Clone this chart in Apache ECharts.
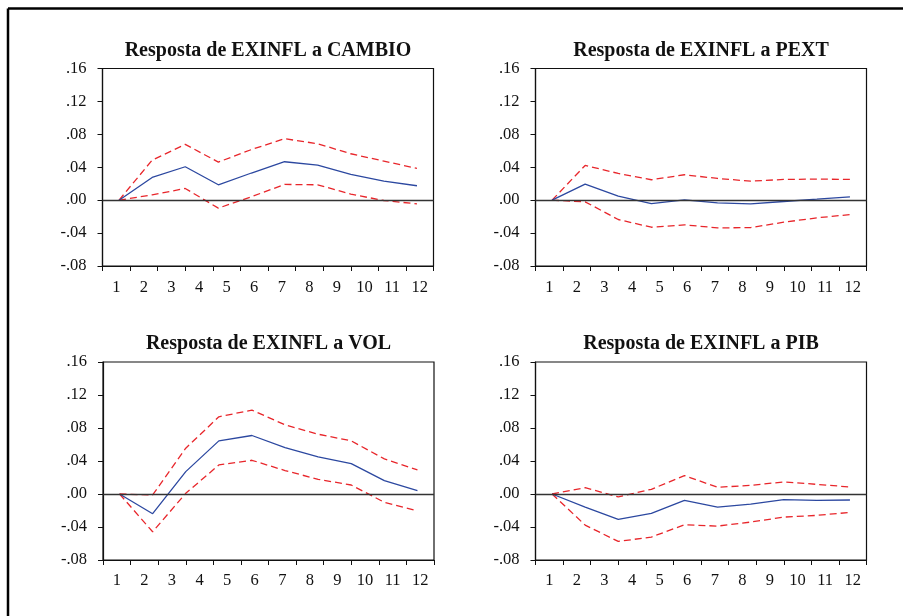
<!DOCTYPE html>
<html>
<head>
<meta charset="utf-8">
<script src="https://cdn.jsdelivr.net/npm/echarts@6/dist/echarts.min.js"></script>
<style>
html,body{margin:0;padding:0;background:#fff;}
#chart{width:903px;height:616px;}
</style>
</head>
<body>
<div id="chart"></div>
<script>
// Axis tick labels (horizontal axis) and response periods
var axisLabels = ['1','2','3','4','5','6','7','8','9','10','11','12'];
var periods = [1,2,3,4,5,6,7,8,9,10];
var yTicks = [-0.08, -0.04, 0.00, 0.04, 0.08, 0.12, 0.16];

var titles = ['Resposta de EXINFL a CAMBIO', 'Resposta de EXINFL a PEXT',
              'Resposta de EXINFL a VOL', 'Resposta de EXINFL a PIB'];

// CAMBIO
var cambioResp  = [0, 0.0276, 0.0406, 0.0187, 0.0330, 0.0467, 0.0426, 0.0313, 0.0231, 0.0175];
var cambioUpper = [0, 0.0487, 0.0678, 0.0463, 0.0615, 0.0747, 0.0686, 0.0564, 0.0475, 0.0386];
var cambioLower = [0, 0.0065, 0.0142, -0.0097, 0.0042, 0.0191, 0.0187, 0.0073, -0.0004, -0.0045];
// PEXT
var pextResp  = [0, 0.0195, 0.0049, -0.0041, 0.0004, -0.0032, -0.0045, -0.0016, 0.0012, 0.0041];
var pextUpper = [0, 0.0422, 0.0325, 0.0248, 0.0309, 0.0264, 0.0231, 0.0252, 0.0256, 0.0252];
var pextLower = [0, -0.0020, -0.0235, -0.0329, -0.0300, -0.0337, -0.0333, -0.0268, -0.0215, -0.0175];
// VOL
var volResp  = [0, -0.0239, 0.0271, 0.0644, 0.0709, 0.0563, 0.0450, 0.0369, 0.0162, 0.0040];
var volUpper = [0, -0.0012, 0.0555, 0.0936, 0.1017, 0.0838, 0.0725, 0.0644, 0.0425, 0.0292];
var volLower = [0, -0.0458, 0.0008, 0.0352, 0.0409, 0.0284, 0.0178, 0.0109, -0.0101, -0.0203];
// PIB
var pibResp  = [0, -0.0158, -0.0308, -0.0235, -0.0077, -0.0158, -0.0122, -0.0069, -0.0077, -0.0073];
var pibUpper = [0, 0.0077, -0.0036, 0.0057, 0.0223, 0.0081, 0.0105, 0.0146, 0.0117, 0.0085];
var pibLower = [0, -0.0377, -0.0575, -0.0522, -0.0373, -0.0389, -0.0340, -0.0280, -0.0259, -0.0223];

var panels = [
  {resp: cambioResp, up: cambioUpper, lo: cambioLower},
  {resp: pextResp, up: pextUpper, lo: pextLower},
  {resp: volResp, up: volUpper, lo: volLower},
  {resp: pibResp, up: pibUpper, lo: pibLower}
];

var FONT = '"Liberation Serif", "Times New Roman", serif';
var grids = [
  {left: 102.5, top: 68.5, width: 331, height: 197.5},
  {left: 535.5, top: 68.5, width: 331, height: 197.5},
  {left: 103, top: 362, width: 331, height: 198},
  {left: 535.5, top: 362, width: 331, height: 198}
];

function fmt(v) {
  var s = Math.abs(v).toFixed(2).replace(/^0/, '');
  return (v < -1e-9 ? '-' : '') + s;
}

var option = {
  animation: false,
  backgroundColor: '#fff',
  title: [],
  grid: [],
  xAxis: [],
  yAxis: [],
  series: [],
  graphic: [
    {type: 'line', shape: {x1: 8, y1: 8.5, x2: 903, y2: 8.5}, style: {stroke: '#000', lineWidth: 2.5}, silent: true},
    {type: 'line', shape: {x1: 8, y1: 8.5, x2: 8, y2: 616}, style: {stroke: '#000', lineWidth: 2.5}, silent: true}
  ]
};

grids.forEach(function (g, i) {
  option.grid.push({left: g.left, top: g.top, width: g.width, height: g.height,
    show: true, borderColor: '#111', borderWidth: 1.2, backgroundColor: 'transparent', containLabel: false});
  option.title.push({
    text: titles[i], left: g.left + g.width / 2, top: g.top - 28, textAlign: 'center', padding: 0,
    textStyle: {fontFamily: FONT, fontWeight: 'bold', fontSize: 20, color: '#111'}
  });
  // visible category axis with 12 labels
  option.xAxis.push({
    type: 'category', gridIndex: i, data: axisLabels, boundaryGap: true, position: 'bottom',
    axisLine: {show: true, onZero: false, lineStyle: {color: '#111', width: 1.2}},
    axisTick: {show: true, length: 5, inside: false, alignWithLabel: false, lineStyle: {color: '#111', width: 1}},
    axisLabel: {show: true, interval: 0, margin: i < 2 ? 13 : 12, fontFamily: FONT, fontSize: 16.5, color: '#111'},
    splitLine: {show: false}
  });
  // hidden category axis for the 10 response periods
  option.xAxis.push({
    type: 'category', gridIndex: i, data: periods, boundaryGap: true, show: false,
    axisLine: {onZero: false}
  });
  option.yAxis.push({
    type: 'value', gridIndex: i, min: yTicks[0], max: yTicks[yTicks.length - 1], interval: 0.04,
    axisLine: {show: true, onZero: false, lineStyle: {color: '#111', width: 1.2}},
    axisTick: {show: true, length: 5, inside: false, lineStyle: {color: '#111', width: 1}},
    axisLabel: {show: true, margin: 16, fontFamily: FONT, fontSize: 16.5, color: '#111', formatter: fmt},
    splitLine: {show: false}
  });
  var p = panels[i];
  var xi = i * 2 + 1;
  option.series.push({
    type: 'line', xAxisIndex: xi, yAxisIndex: i, data: p.resp, symbol: 'none', z: 4,
    lineStyle: {color: '#2c48a0', width: 1.3},
    markLine: {silent: true, symbol: 'none', label: {show: false},
      lineStyle: {color: '#333', width: 1.3, type: 'solid'}, data: [{yAxis: 0}]}
  });
  option.series.push({
    type: 'line', xAxisIndex: xi, yAxisIndex: i, data: p.up, symbol: 'none', z: 3,
    lineStyle: {color: '#e8262b', width: 1.3, type: [7, 4]}
  });
  option.series.push({
    type: 'line', xAxisIndex: xi, yAxisIndex: i, data: p.lo, symbol: 'none', z: 3,
    lineStyle: {color: '#e8262b', width: 1.3, type: [7, 4]}
  });
});

var chart = echarts.init(document.getElementById('chart'), null, {renderer: 'canvas'});
chart.setOption(option);
</script>
</body>
</html>
